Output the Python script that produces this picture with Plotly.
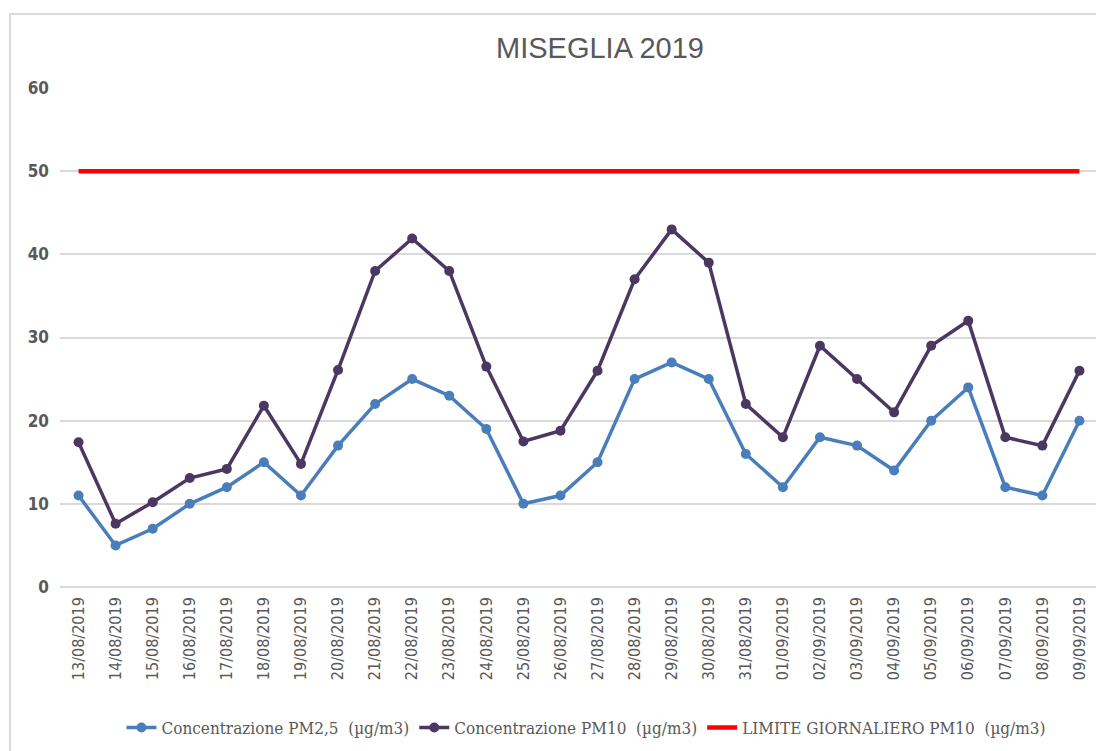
import plotly.graph_objects as go

dates = ["13/08/2019", "14/08/2019", "15/08/2019", "16/08/2019", "17/08/2019", "18/08/2019",
         "19/08/2019", "20/08/2019", "21/08/2019", "22/08/2019", "23/08/2019", "24/08/2019",
         "25/08/2019", "26/08/2019", "27/08/2019", "28/08/2019", "29/08/2019", "30/08/2019",
         "31/08/2019", "01/09/2019", "02/09/2019", "03/09/2019", "04/09/2019", "05/09/2019",
         "06/09/2019", "07/09/2019", "08/09/2019", "09/09/2019"]

pm25 = [11, 5, 7, 10, 12, 15, 11, 17, 22, 25, 23, 19, 10, 11, 15, 25, 27, 25, 16, 12, 18, 17, 14, 20, 24, 12, 11, 20]
pm10 = [17.4, 7.6, 10.2, 13.1, 14.2, 21.8, 14.8, 26.1, 38, 41.9, 38, 26.5, 17.5, 18.8, 26, 37, 43, 39, 22, 18, 29, 25, 21, 29, 32, 18, 17, 26]
limit = [50] * len(dates)

names = ["Concentrazione PM2,5\u00a0 (µg/m3)", "Concentrazione PM10\u00a0 (µg/m3)", "LIMITE GIORNALIERO PM10\u00a0 (µg/m3)"]

W, H = 1104, 751
OFF = 8  # page body margin
L, R, T, B = 60 - OFF, W - (1098 - OFF), 88 - OFF, H - (587 - OFF)
PW, PH = W - L - R, H - T - B

fig = go.Figure()
fig.add_trace(go.Scatter(x=dates, y=pm25, name=names[0], mode="lines+markers",
                         line=dict(color="#4a7ebb", width=3.5), marker=dict(size=10, color="#4a7ebb")))
fig.add_trace(go.Scatter(x=dates, y=pm10, name=names[1], mode="lines+markers",
                         line=dict(color="#4b3862", width=3.5), marker=dict(size=10, color="#4b3862")))
fig.add_trace(go.Scatter(x=dates, y=limit, name=names[2], mode="lines",
                         line=dict(color="#ff0000", width=4.5)))

fig.update_layout(
    width=W, height=H,
    margin=dict(l=L, r=R, t=T, b=B, autoexpand=False),
    paper_bgcolor="white", plot_bgcolor="white",
    title=dict(text="MISEGLIA 2019", x=(600 - OFF) / W, xref="container", xanchor="center",
               y=1 - (48 - OFF) / H, yanchor="middle", automargin=False,
               font=dict(family="Liberation Sans, Arial", size=29, color="#595959")),
    xaxis=dict(type="category", range=[-0.5, 27.5], automargin=False, tickangle=-90,
               showgrid=False, showline=False,
               ticks="", tickfont=dict(family="DejaVu Sans Condensed, Open Sans", size=16, color="#595959"),
               ticklabelstandoff=6),
    yaxis=dict(range=[0, 60], dtick=10, automargin=False, showgrid=True, gridcolor="#d9d9d9", gridwidth=1.5,
               zeroline=True, zerolinecolor="#d9d9d9", zerolinewidth=1.5, showline=False, ticks="",
               tickfont=dict(family="DejaVu Sans Condensed, Open Sans", size=17, color="#595959", weight="bold"),
               ticklabelstandoff=10),
    legend=dict(orientation="h", x=(586 - OFF) / W, xref="container", xanchor="center",
                y=1 - (728 - OFF) / H, yref="container", yanchor="middle",
                font=dict(family="DejaVu Serif Condensed, Liberation Serif", size=17, color="#595959"),
                itemwidth=30, tracegroupgap=0),
    showlegend=True,
    shapes=[dict(type="rect", xref="paper", yref="paper",
                 x0=(10 - OFF - L) / PW, x1=(1120 - OFF - L) / PW,
                 y0=(H + 20 - T) / -PH + 1, y1=1 + (T - (14 - OFF)) / PH,
                 line=dict(color="#d9d9d9", width=2), fillcolor="rgba(0,0,0,0)", layer="below")],
)

fig.write_html("out.html")
